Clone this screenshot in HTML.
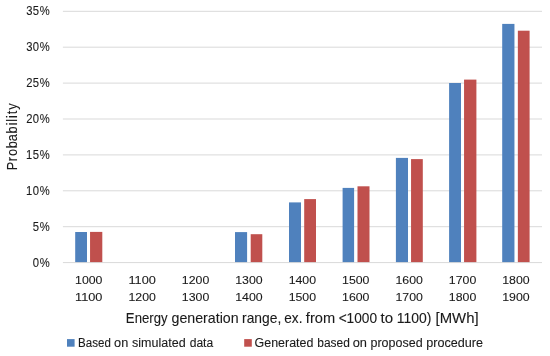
<!DOCTYPE html>
<html><head><meta charset="utf-8"><style>
html,body{margin:0;padding:0;background:#fff;width:550px;height:356px;overflow:hidden}
svg{position:absolute;left:0;top:0}
svg text{font-family:"Liberation Sans",sans-serif;fill:#1a1a1a;stroke:#1a1a1a;stroke-width:0.1px}
#tx{will-change:transform}
</style></head><body>
<svg width="550" height="356" viewBox="0 0 550 356">
<line x1="62.9" y1="11.30" x2="542" y2="11.30" stroke="#D9D9D9" stroke-width="1"/>
<line x1="62.9" y1="47.20" x2="542" y2="47.20" stroke="#D9D9D9" stroke-width="1"/>
<line x1="62.9" y1="83.10" x2="542" y2="83.10" stroke="#D9D9D9" stroke-width="1"/>
<line x1="62.9" y1="119.00" x2="542" y2="119.00" stroke="#D9D9D9" stroke-width="1"/>
<line x1="62.9" y1="154.90" x2="542" y2="154.90" stroke="#D9D9D9" stroke-width="1"/>
<line x1="62.9" y1="190.80" x2="542" y2="190.80" stroke="#D9D9D9" stroke-width="1"/>
<line x1="62.9" y1="226.70" x2="542" y2="226.70" stroke="#D9D9D9" stroke-width="1"/>
<line x1="62.9" y1="262.60" x2="542" y2="262.60" stroke="#D9D9D9" stroke-width="1"/>
<rect x="75.20" y="232.00" width="11.80" height="30.10" fill="#4F81BD"/>
<rect x="235.00" y="232.10" width="12.10" height="30.00" fill="#4F81BD"/>
<rect x="289.00" y="202.40" width="12.00" height="59.70" fill="#4F81BD"/>
<rect x="342.60" y="187.90" width="11.50" height="74.20" fill="#4F81BD"/>
<rect x="395.90" y="157.90" width="12.10" height="104.20" fill="#4F81BD"/>
<rect x="449.10" y="83.00" width="11.90" height="179.10" fill="#4F81BD"/>
<rect x="502.20" y="23.90" width="12.25" height="238.20" fill="#4F81BD"/>
<rect x="90.05" y="231.90" width="12.25" height="30.20" fill="#C0504D"/>
<rect x="250.70" y="234.20" width="11.60" height="27.90" fill="#C0504D"/>
<rect x="304.20" y="199.10" width="11.80" height="63.00" fill="#C0504D"/>
<rect x="357.50" y="186.30" width="12.00" height="75.80" fill="#C0504D"/>
<rect x="411.05" y="159.10" width="11.75" height="103.00" fill="#C0504D"/>
<rect x="464.05" y="79.60" width="12.35" height="182.50" fill="#C0504D"/>
<rect x="517.85" y="30.70" width="11.75" height="231.40" fill="#C0504D"/>
<rect x="67.0" y="339.1" width="7.6" height="7.6" fill="#4F81BD"/>
<rect x="244.2" y="339.1" width="7.6" height="7.6" fill="#C0504D"/>
</svg>
<svg id="tx" width="550" height="356" viewBox="0 0 550 356">
<text transform="scale(0.9,1)" x="29.23 36.48 44.16" y="15" font-size="12.5">35%</text>
<text transform="scale(0.9,1)" x="29.23 36.47 44.16" y="51" font-size="12.5">30%</text>
<text transform="scale(0.9,1)" x="29.19 36.48 44.16" y="87" font-size="12.5">25%</text>
<text transform="scale(0.9,1)" x="29.19 36.47 44.16" y="123" font-size="12.5">20%</text>
<text transform="scale(0.9,1)" x="29.02 36.48 44.16" y="159" font-size="12.5">15%</text>
<text transform="scale(0.9,1)" x="29.02 36.47 44.16" y="195" font-size="12.5">10%</text>
<text transform="scale(0.9,1)" x="36.48 44.16" y="231" font-size="12.5">5%</text>
<text transform="scale(0.9,1)" x="36.47 44.16" y="267" font-size="12.5">0%</text>
<text x="75.06" y="284.00" font-size="11.8" textLength="27.42" lengthAdjust="spacingAndGlyphs">1000</text>
<text x="75.06" y="300.60" font-size="11.8" textLength="27.42" lengthAdjust="spacingAndGlyphs">1100</text>
<text x="128.46" y="284.00" font-size="11.8" textLength="27.42" lengthAdjust="spacingAndGlyphs">1100</text>
<text x="128.46" y="300.60" font-size="11.8" textLength="27.42" lengthAdjust="spacingAndGlyphs">1200</text>
<text x="181.86" y="284.00" font-size="11.8" textLength="27.42" lengthAdjust="spacingAndGlyphs">1200</text>
<text x="181.86" y="300.60" font-size="11.8" textLength="27.42" lengthAdjust="spacingAndGlyphs">1300</text>
<text x="235.26" y="284.00" font-size="11.8" textLength="27.42" lengthAdjust="spacingAndGlyphs">1300</text>
<text x="235.26" y="300.60" font-size="11.8" textLength="27.42" lengthAdjust="spacingAndGlyphs">1400</text>
<text x="288.66" y="284.00" font-size="11.8" textLength="27.42" lengthAdjust="spacingAndGlyphs">1400</text>
<text x="288.66" y="300.60" font-size="11.8" textLength="27.42" lengthAdjust="spacingAndGlyphs">1500</text>
<text x="342.06" y="284.00" font-size="11.8" textLength="27.42" lengthAdjust="spacingAndGlyphs">1500</text>
<text x="342.06" y="300.60" font-size="11.8" textLength="27.42" lengthAdjust="spacingAndGlyphs">1600</text>
<text x="395.46" y="284.00" font-size="11.8" textLength="27.42" lengthAdjust="spacingAndGlyphs">1600</text>
<text x="395.46" y="300.60" font-size="11.8" textLength="27.42" lengthAdjust="spacingAndGlyphs">1700</text>
<text x="448.86" y="284.00" font-size="11.8" textLength="27.42" lengthAdjust="spacingAndGlyphs">1700</text>
<text x="448.86" y="300.60" font-size="11.8" textLength="27.42" lengthAdjust="spacingAndGlyphs">1800</text>
<text x="502.26" y="284.00" font-size="11.8" textLength="27.42" lengthAdjust="spacingAndGlyphs">1800</text>
<text x="502.26" y="300.60" font-size="11.8" textLength="27.42" lengthAdjust="spacingAndGlyphs">1900</text>
<text x="125.87" y="322.60" font-size="14.2" textLength="41.65" lengthAdjust="spacingAndGlyphs">Energy</text>
<text x="171.50" y="322.60" font-size="14.2" textLength="67.12" lengthAdjust="spacingAndGlyphs">generation</text>
<text x="242.08" y="322.60" font-size="14.2" textLength="39.16" lengthAdjust="spacingAndGlyphs">range,</text>
<text x="284.32" y="322.60" font-size="14.2" textLength="18.12" lengthAdjust="spacingAndGlyphs">ex.</text>
<text x="305.89" y="322.60" font-size="14.2" textLength="29.27" lengthAdjust="spacingAndGlyphs">from</text>
<text x="338.63" y="322.60" font-size="14.2" textLength="38.41" lengthAdjust="spacingAndGlyphs">&lt;1000</text>
<text x="380.57" y="322.60" font-size="14.2" textLength="12.56" lengthAdjust="spacingAndGlyphs">to</text>
<text x="396.77" y="322.60" font-size="14.2" textLength="34.67" lengthAdjust="spacingAndGlyphs">1100)</text>
<text x="435.54" y="322.60" font-size="14.2" textLength="43.02" lengthAdjust="spacingAndGlyphs">[MWh]</text>
<text transform="translate(17.2,168.6) rotate(-90) scale(0.88,1)" x="-1.87 8.25 14.21 23.02 31.23 40.01 49.36 53.22 57.60 61.74 66.94" y="0" font-size="14.5">Probability</text>
<text x="78.11" y="346.60" font-size="12.0" textLength="32.73" lengthAdjust="spacingAndGlyphs">Based</text>
<text x="114.07" y="346.60" font-size="12.0" textLength="14.16" lengthAdjust="spacingAndGlyphs">on</text>
<text x="132.05" y="346.60" font-size="12.0" textLength="53.55" lengthAdjust="spacingAndGlyphs">simulated</text>
<text x="189.69" y="346.60" font-size="12.0" textLength="23.51" lengthAdjust="spacingAndGlyphs">data</text>
<text x="254.52" y="346.60" font-size="12.0" textLength="58.88" lengthAdjust="spacingAndGlyphs">Generated</text>
<text x="317.33" y="346.60" font-size="12.0" textLength="32.54" lengthAdjust="spacingAndGlyphs">based</text>
<text x="352.66" y="346.60" font-size="12.0" textLength="14.27" lengthAdjust="spacingAndGlyphs">on</text>
<text x="370.49" y="346.60" font-size="12.0" textLength="52.11" lengthAdjust="spacingAndGlyphs">proposed</text>
<text x="426.19" y="346.60" font-size="12.0" textLength="56.77" lengthAdjust="spacingAndGlyphs">procedure</text>
</svg>
</body></html>
